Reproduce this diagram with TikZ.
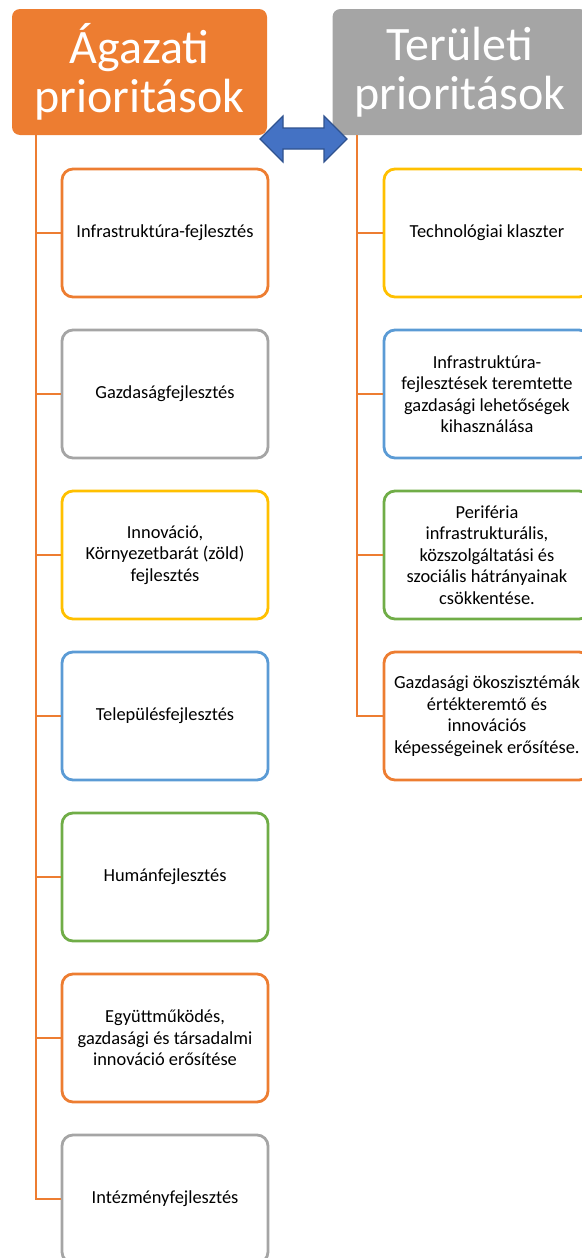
\documentclass[tikz,border=0pt]{standalone}
\usepackage{fontspec}
\setmainfont{Carlito}
\definecolor{cOrange}{HTML}{ED7D31}
\definecolor{cGray}{HTML}{A5A5A5}
\definecolor{cYellow}{HTML}{FFC000}
\definecolor{cBlue}{HTML}{5B9BD5}
\definecolor{cGreen}{HTML}{70AD47}
\definecolor{cArrow}{HTML}{4472C4}
\definecolor{cArrowLine}{HTML}{2F528F}
\begin{document}
\begin{tikzpicture}[x=1pt,y=-1pt,
  header/.style={rounded corners=8pt, minimum width=255pt, minimum height=126pt,
    text=white, align=center, inner sep=0pt,
    font=\fontsize{48}{49}\selectfont},
  item/.style={draw=#1, line width=2.8pt, rounded corners=11pt, fill=white,
    minimum width=206pt, minimum height=128pt, align=center, inner sep=0pt,
    font=\fontsize{18.4}{21.5}\selectfont},
  conn/.style={draw=cOrange, line width=2.7pt}]
\useasboundingbox (0,0) rectangle (581,1258);
\node[header, fill=cOrange] (h1) at (139.5,72) {Ágazati\\prioritások};
\node[header, fill=cGray] (h2) at (460,72) {Területi\\prioritások};

\coordinate (lt) at (36,135);
\coordinate (rt) at (357,135);

\node[item=cOrange] (l1) at (165,233) {Infrastruktúra-fejlesztés};
\node[item=cGray]   (l2) at (165,394) {Gazdaságfejlesztés};
\node[item=cYellow] (l3) at (165,555) {Innováció,\\Környezetbarát (zöld)\\fejlesztés};
\node[item=cBlue]   (l4) at (165,716) {Településfejlesztés};
\node[item=cGreen]  (l5) at (165,877) {Humánfejlesztés};
\node[item=cOrange] (l6) at (165,1038) {Együttműködés,\\gazdasági és társadalmi\\innováció erősítése};
\node[item=cGray]   (l7) at (165,1199) {Intézményfejlesztés};

\node[item=cYellow] (r1) at (487,233) {Technológiai klaszter};
\node[item=cBlue]   (r2) at (487,394) {Infrastruktúra-\\fejlesztések teremtette\\gazdasági lehetőségek\\kihasználása};
\node[item=cGreen]  (r3) at (487,555) {Periféria\\infrastrukturális,\\közszolgáltatási és\\szociális hátrányainak\\csökkentése.};
\node[item=cOrange] (r4) at (487,716) {Gazdasági ökoszisztémák\\értékteremtő és\\innovációs\\képességeinek erősítése.};

\draw[conn] (lt) |- (l7.west);
\foreach \n in {l1,l2,l3,l4,l5,l6}{\draw[conn] (lt |- \n.west) -- (\n.west);}
\draw[conn] (rt) |- (r4.west);
\foreach \n in {r1,r2,r3}{\draw[conn] (rt |- \n.west) -- (\n.west);}

\draw[draw=cArrowLine, line width=1.2pt, fill=cArrow, line join=miter]
  (260,139) -- (283,116) -- (283,128) -- (324,128) -- (324,116) -- (347,139)
  -- (324,162) -- (324,149) -- (283,149) -- (283,162) -- cycle;
\end{tikzpicture}
\end{document}
